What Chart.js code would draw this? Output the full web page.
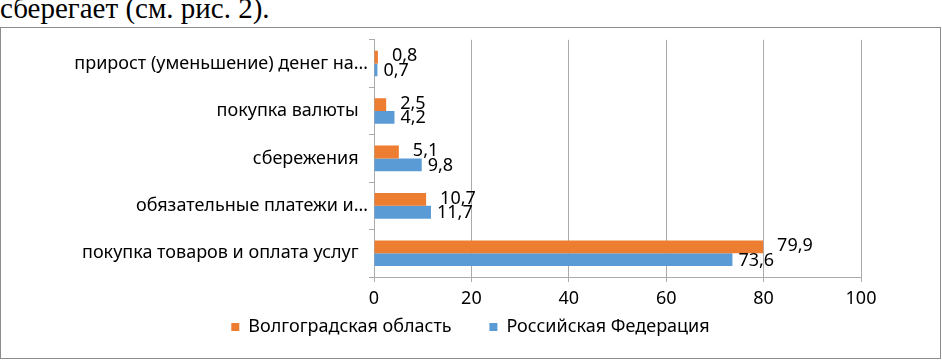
<!DOCTYPE html>
<html>
<head>
<meta charset="utf-8">
<script src="https://cdn.jsdelivr.net/npm/chart.js@4.4.0/dist/chart.umd.min.js"></script>
<style>
  body { margin: 0; background: #fff; width: 942px; height: 360px; overflow: hidden; position: relative; }
  #caption { position: absolute; left: 0; top: -8px; font-family: "Liberation Serif", serif; font-size: 29px; color: #000; white-space: nowrap; }
  #box { position: absolute; left: 0; top: 27px; width: 939px; height: 330px; border: 1px solid #8c8c8c; }
</style>
</head>
<body>
<div id="caption">сберегает (см. рис. 2).</div>
<div id="box"><canvas id="myChart" width="939" height="330"></canvas></div>
<script>
// ----------------- data -------------------------//
const categories = [
  "прирост (уменьшение) денег на…",
  "покупка валюты",
  "сбережения",
  "обязательные платежи и…",
  "покупка товаров и оплата услуг",
];
const volgogradValues = [0.8, 2.5, 5.1, 10.7, 79.9];
const russiaValues = [0.7, 4.2, 9.8, 11.7, 73.6];
const xTicks = [0, 20, 40, 60, 80, 100];

const FONT = "'Noto Sans', sans-serif";
const GAP = "\u00a0\u00a0\u00a0\u00a0\u00a0\u00a0\u00a0";

// value labels next to the bar ends (Excel style, comma decimals)
const barLabels = {
  id: "barLabels",
  afterDatasetsDraw(chart) {
    const ctx = chart.ctx;
    ctx.save();
    ctx.font = "18px " + FONT;
    ctx.fillStyle = "#000";
    ctx.textBaseline = "middle";
    chart.data.datasets.forEach((ds, i) => {
      const meta = chart.getDatasetMeta(i);
      meta.data.forEach((bar, j) => {
        const txt = ds.data[j].toFixed(1).replace(".", ",");
        ctx.fillText(txt, bar.x + (i === 0 ? 14 : 6), bar.y + (i === 0 ? -1 : 1));
      });
    });
    ctx.restore();
  },
};

const ctx = document.getElementById("myChart");
const myChart = new Chart(ctx, {
  type: "bar",
  data: {
    labels: categories,
    datasets: [
      {
        label: "Волгоградская область",
        data: volgogradValues,
        backgroundColor: "#ED7D31",
        categoryPercentage: 0.54,
        barPercentage: 1,
      },
      {
        label: "Российская Федерация",
        data: russiaValues,
        backgroundColor: "#5B9BD5",
        categoryPercentage: 0.54,
        barPercentage: 1,
      },
    ],
  },
  options: {
    indexAxis: "y",
    responsive: false,
    animation: false,
    layout: { padding: { top: 8, right: 0, bottom: 12, left: 0 } },
    scales: {
      x: {
        min: 0,
        max: 100,
        afterBuildTicks: (scale) => { scale.ticks = xTicks.map((v) => ({ value: v })); },
        grid: { color: "#ababab", tickLength: 5 },
        border: { color: "#ababab" },
        ticks: { color: "#000", font: { family: FONT, size: 18 }, padding: 6 },
        afterFit: (scale) => {
          scale.height = 36;
          scale.paddingRight = 79; // empty space right of the plot, legend stays centred on the box
        },
      },
      y: {
        grid: { drawOnChartArea: false, color: "#ababab", tickLength: 5 },
        border: { color: "#ababab" },
        ticks: {
          color: "#000",
          font: { family: FONT, size: 18 },
          padding: 1,
          // full labels sit a little further from the axis than truncated ones
          callback: function (value) {
            const s = this.getLabelForValue(value);
            return s.endsWith("…") ? s : s + "\u00a0\u00a0";
          },
        },
        afterFit: (scale) => { scale.width = 373; },
      },
    },
    plugins: {
      legend: {
        position: "bottom",
        labels: {
          color: "#000",
          font: { family: FONT, size: 18 },
          boxWidth: 8,
          boxHeight: 8,
          padding: 5,
          generateLabels: (chart) => {
            const items = Chart.defaults.plugins.legend.labels.generateLabels(chart);
            items.forEach((it, i) => { if (i < items.length - 1) it.text += GAP; });
            return items;
          },
        },
      },
      tooltip: { enabled: false },
    },
  },
  plugins: [barLabels],
});
</script>
</body>
</html>
